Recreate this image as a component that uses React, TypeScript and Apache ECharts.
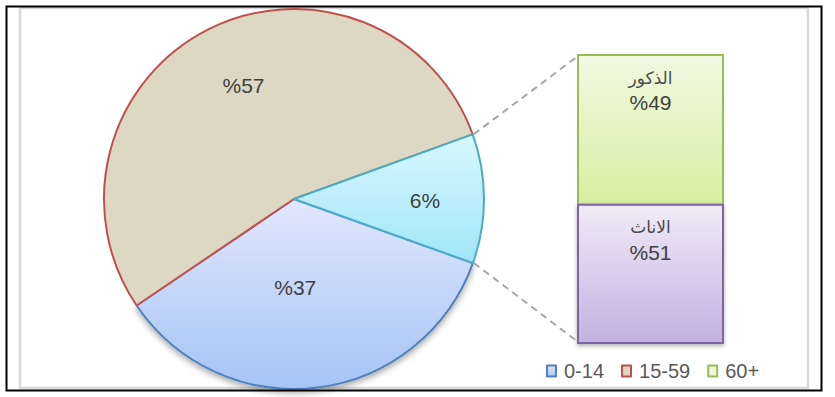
import React, { useEffect, useRef } from 'react';
import * as echarts from 'echarts';

// Pie: age groups (slice sizes as drawn in the picture, labels as printed)
const pieCategories = ['0-14', '15-59', '60+'];
const pieShares = [35.06, 53.94, 11.0];
const pieLabels = ['%37', '%57', '6%'];

// Bar: split of the 60+ group, top to bottom (segment sizes as drawn, labels as printed)
const barCategories = ['الذكور', 'الاناث'];
const barShares = [52, 48];
const barLabels = ['%49', '%51'];

const FONT = '"Liberation Sans", Arial, "DejaVu Sans", sans-serif';

function lg(top: string, bottom: string) {
  return new echarts.graphic.LinearGradient(0, 0, 0, 1, [
    { offset: 0, color: top },
    { offset: 1, color: bottom },
  ]);
}

export default function App() {
  const ref = useRef<HTMLDivElement>(null);
  useEffect(() => {
    const chart = echarts.init(ref.current!, null, { renderer: 'svg' });
    const cx = 294, cy = 199, R = 190;
    const startAngle = -19.7;
    const barLeft = 578, barTop = 55, barW = 145, barH = 288;

    const total = pieShares.reduce((a, b) => a + b, 0);
    const before = (pieShares[0] + pieShares[1]) / total * 360;
    const aUpper = (startAngle - before) * Math.PI / 180;
    const aLower = startAngle * Math.PI / 180;
    const pU = [cx + R * Math.cos(aUpper), cy - R * Math.sin(aUpper)];
    const pL = [cx + R * Math.cos(aLower), cy - R * Math.sin(aLower)];

    const sliceStyles = [
      { color: lg('#e2e7fc', '#a5c4f6'), borderColor: '#4f81bd', borderWidth: 2,
        shadowBlur: 6, shadowOffsetY: 3, shadowColor: 'rgba(0,0,0,0.35)' },
      { color: '#ddd8c3', borderColor: '#c0504d', borderWidth: 2 },
      { color: lg('#d8f7fd', '#a1e6f8'), borderColor: '#4bacc6', borderWidth: 2 },
    ];
    const labelOffsets = [[-11, -9], [-6, -26], [33, 2]];

    const barStyles = [
      { fill: lg('#f1f9e3', '#d5efa0'), stroke: '#9bbb59', lineWidth: 2 },
      { fill: lg('#f0ebf8', '#c3b0e0'), stroke: '#8064a2', lineWidth: 2,
        shadowBlur: 4, shadowOffsetY: 2, shadowColor: 'rgba(0,0,0,0.3)' },
    ];

    // segments top to bottom: [categoryIndex, start, end, segIndex]
    const n = barShares.length;
    const segData: number[][] = [];
    let acc = 0;
    const starts: number[] = new Array(n);
    for (let i = n - 1; i >= 0; i--) {
      starts[i] = acc;
      acc += barShares[i];
    }
    for (let i = 0; i < n; i++) segData.push([0, starts[i], starts[i] + barShares[i], i]);

    const option: any = {
      animation: false,
      backgroundColor: '#ffffff',
      legend: {
        left: 541,
        top: 356,
        selectedMode: false,
        icon: 'rect',
        itemWidth: 9,
        itemHeight: 11,
        itemGap: 17,
        itemStyle: { borderWidth: 2 },
        textStyle: { fontFamily: FONT, fontSize: 20, color: '#595959', padding: [0, 0, 0, 3] },
        data: [
          { name: pieCategories[0] },
          { name: pieCategories[1] },
          { name: pieCategories[2], itemStyle: { color: '#ebf5d8', borderColor: '#9bbb59' } },
        ],
      },
      grid: { left: barLeft, top: barTop, width: barW, height: barH },
      xAxis: { type: 'category', data: ['x'], show: false },
      yAxis: { type: 'value', min: 0, max: 100, show: false },
      series: [
        {
          type: 'pie',
          center: [cx, cy],
          radius: R,
          startAngle,
          clockwise: true,
          avoidLabelOverlap: false,
          silent: true,
          label: {
            show: true, position: 'inside', fontFamily: FONT, fontSize: 21, color: '#404040',
          },
          labelLine: { show: false },
          data: pieCategories.map((name, i) => ({
            name,
            value: pieShares[i],
            itemStyle: sliceStyles[i],
            label: { formatter: pieLabels[i], offset: labelOffsets[i] },
          })),
        },
        {
          type: 'custom',
          coordinateSystem: 'cartesian2d',
          silent: true,
          data: segData,
          renderItem: (params: any, api: any) => {
            const idx = api.value(3);
            const p0 = api.coord([api.value(0), api.value(1)]);
            const p1 = api.coord([api.value(0), api.value(2)]);
            const w = api.size([1, 0])[0];
            const x = p0[0] - w / 2;
            const y = p1[1];
            const h = p0[1] - p1[1];
            return {
              type: 'group',
              z2: idx * 10,
              children: [
                {
                  type: 'rect',
                  z2: idx * 10,
                  shape: { x, y, width: w, height: h },
                  style: barStyles[idx],
                },
                {
                  type: 'text',
                  z2: idx * 10 + 5,
                  x: p0[0],
                  y: y + 11,
                  style: {
                    text: '{a|' + barCategories[idx] + '}\n{b|' + barLabels[idx] + '}',
                    align: 'center',
                    verticalAlign: 'top',
                    fill: '#404040',
                    rich: {
                      a: { fontFamily: FONT, fontSize: 17, lineHeight: 24, fill: '#4a4a4a', align: 'center' },
                      b: { fontFamily: FONT, fontSize: 21, lineHeight: 25, fill: '#404040', align: 'center' },
                    },
                  },
                },
              ],
            };
          },
        },
      ],
      graphic: [
        {
          type: 'rect', z: -10, silent: true,
          shape: { x: 20, y: 8, width: 788, height: 380 },
          style: { fill: 'none', stroke: '#d9d9d9', lineWidth: 2.5 },
        },
        {
          type: 'rect', z: 100, silent: true,
          shape: { x: 6.5, y: 6.5, width: 815, height: 384 },
          style: { fill: 'none', stroke: '#000000', lineWidth: 2 },
        },
        {
          type: 'line', z: 50, silent: true,
          shape: { x1: pU[0] + 1, y1: pU[1], x2: barLeft, y2: barTop + 1 },
          style: { stroke: '#a6a6a6', lineWidth: 2, lineDash: [7, 5] },
        },
        {
          type: 'line', z: 50, silent: true,
          shape: { x1: pL[0] + 1, y1: pL[1], x2: barLeft, y2: barTop + barH - 1 },
          style: { stroke: '#a6a6a6', lineWidth: 2, lineDash: [7, 5] },
        },
      ],
    };
    chart.setOption(option);
    return () => chart.dispose();
  }, []);
  return (
    <div
      ref={ref}
      style={{ position: 'fixed', left: 0, top: 0, width: 835, height: 397 }}
    />
  );
}
